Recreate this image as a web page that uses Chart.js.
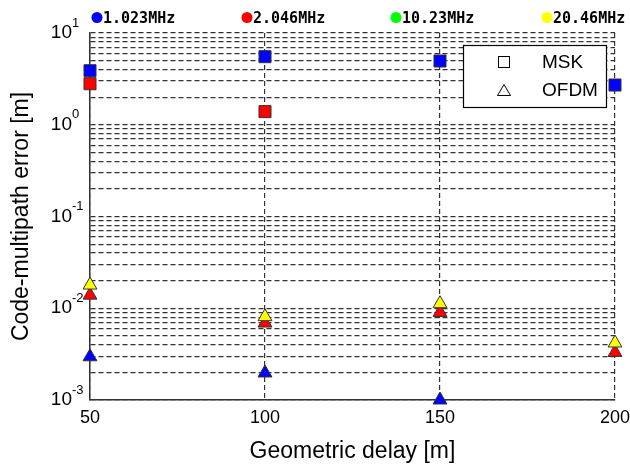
<!DOCTYPE html>
<html>
<head>
<meta charset="utf-8">
<script src="https://cdn.jsdelivr.net/npm/chart.js@4"></script>
<style>
  body { margin: 0; background: #fff; }
  #wrap { width: 630px; height: 465px; }
</style>
</head>
<body>
<div id="wrap"><canvas id="grafico" width="630" height="465"></canvas></div>
<script>
// geometric delay [m]
const atrasos = [50, 100, 150, 200];
// code-multipath error [m], MSK (squares)
const mskAzul = [3.88, 5.52, 4.95, 2.71];       // 1.023 MHz
const mskVermelho = [2.80, 1.39, null, null];    // 2.046 MHz
// OFDM (triangles)
const ofdmAzul = [0.00296, 0.00197, 0.001, null];      // 1.023 MHz
const ofdmVermelho = [0.0139, 0.0069, 0.0090, 0.0033];  // 2.046 MHz
const ofdmVerde = [null, null, null, null];             // 10.23 MHz (not visible)
const ofdmAmarelo = [0.0179, 0.00809, 0.0112, 0.00418]; // 20.46 MHz

const frequencias = ['1.023MHz', '2.046MHz', '10.23MHz', '20.46MHz'];
const coresFreq = ['#0000ff', '#ff0000', '#00ff00', '#ffff00'];
const expoentes = [-3, -2, -1, 0, 1];
const modulacoes = ['MSK', 'OFDM'];

const fonte = "'Liberation Sans', Arial, sans-serif";

function pontos(valores) {
  return atrasos.map((x, i) => ({ x: x, y: valores[i] })).filter(p => p.y !== null);
}

function serie(valores, cor, estilo, ordem) {
  return {
    data: pontos(valores),
    pointStyle: estilo,
    pointRadius: estilo === 'rect' ? 8.5 : 8,
    backgroundColor: cor,
    borderColor: '#333',
    borderWidth: 1,
    showLine: false,
    clip: false,
    order: ordem
  };
}

//decorações: rótulos do eixo y e legendas
const decor = {
  id: 'decor',
  afterDraw(chart) {
    const ctx = chart.ctx;
    const y = chart.scales.y;
    ctx.save();
    ctx.fillStyle = '#000';
    expoentes.forEach(e => {
      const py = y.getPixelForValue(Math.pow(10, e));
      ctx.font = '19px ' + fonte;
      ctx.textAlign = 'right';
      ctx.textBaseline = 'middle';
      ctx.fillText('10', 72, py);
      ctx.font = '13px ' + fonte;
      ctx.textAlign = 'left';
      ctx.fillText(String(e), 72, py - 10);
    });

    // legenda de frequências no topo
    const xs = [97, 247, 396, 547];
    frequencias.forEach((t, i) => {
      ctx.beginPath();
      ctx.arc(xs[i], 17.5, 5.5, 0, Math.PI * 2);
      ctx.fillStyle = coresFreq[i];
      ctx.fill();
      ctx.fillStyle = '#000';
      ctx.font = "bold 15px 'DejaVu Sans Mono', monospace";
      ctx.textAlign = 'left';
      ctx.textBaseline = 'middle';
      ctx.fillText(t, xs[i] + 6, 19);
    });

    // legenda MSK / OFDM
    ctx.fillStyle = '#fff';
    ctx.fillRect(463, 45, 143, 62);
    ctx.strokeStyle = '#000';
    ctx.lineWidth = 1.2;
    ctx.strokeRect(463.5, 45.5, 143, 62);
    ctx.lineWidth = 1;
    ctx.strokeRect(498.5, 56.5, 11, 11);
    ctx.beginPath();
    ctx.moveTo(504, 84.5);
    ctx.lineTo(510.5, 95.5);
    ctx.lineTo(497.5, 95.5);
    ctx.closePath();
    ctx.stroke();
    ctx.fillStyle = '#000';
    ctx.font = '19px ' + fonte;
    ctx.textAlign = 'left';
    ctx.textBaseline = 'middle';
    ctx.fillText(modulacoes[0], 542, 63);
    ctx.fillText(modulacoes[1], 542, 91);
    ctx.restore();
  }
};

new Chart(document.getElementById('grafico'), {
  type: 'scatter',
  data: {
    datasets: [
      serie(mskAzul, coresFreq[0], 'rect', 5),
      serie(mskVermelho, coresFreq[1], 'rect', 4),
      serie(ofdmAzul, coresFreq[0], 'triangle', 4),
      serie(ofdmVermelho, coresFreq[1], 'triangle', 3),
      serie(ofdmVerde, coresFreq[2], 'triangle', 2),
      serie(ofdmAmarelo, coresFreq[3], 'triangle', 1)
    ]
  },
  options: {
    responsive: false,
    animation: false,
    layout: { padding: { top: 33, right: 15, left: 0, bottom: 0 } },
    plugins: {
      legend: { display: false },
      tooltip: { enabled: false }
    },
    scales: {
      x: {
        type: 'linear',
        min: 50,
        max: 200,
        afterFit: s => { s.height = 65; s.paddingLeft = 0; s.paddingRight = 0; },
        ticks: {
          stepSize: 50,
          padding: 7,
          color: '#000',
          font: { family: fonte, size: 18 }
        },
        grid: { color: '#333', lineWidth: 1.2, drawTicks: false },
        border: { display: true, color: '#333', width: 1.5, dash: [5, 3] },
        title: {
          display: true,
          text: 'Geometric delay [m]',
          color: '#000',
          font: { family: fonte, size: 23 },
          padding: { top: 0, bottom: 0 }
        }
      },
      y: {
        type: 'logarithmic',
        min: 0.001,
        max: 10,
        afterFit: s => { s.width = 90; s.paddingTop = 0; s.paddingBottom = 0; },
        afterBuildTicks: s => {
          s.ticks = s.ticks.filter(t => {
            const m = t.value / Math.pow(10, Math.floor(Math.log10(t.value) + 1e-9));
            return Math.abs(m - Math.round(m)) < 1e-6;
          });
        },
        ticks: { display: false },
        grid: { color: '#333', lineWidth: 1.2, drawTicks: false },
        border: { display: true, color: '#333', width: 1.5, dash: [5, 3] },
        title: {
          display: true,
          text: 'Code-multipath error [m]',
          color: '#000',
          font: { family: fonte, size: 23 },
          padding: { top: 8, bottom: 0 }
        }
      }
    }
  },
  plugins: [decor]
});
</script>
</body>
</html>
